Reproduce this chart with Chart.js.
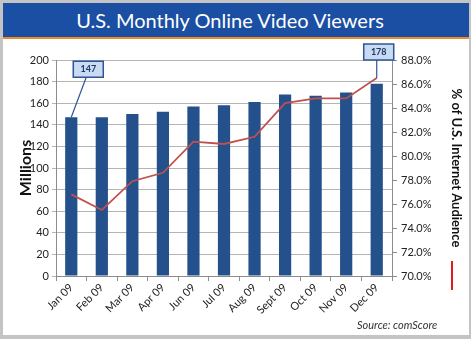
<!DOCTYPE html>
<html>
<head>
<meta charset="utf-8">
<script src="https://cdn.jsdelivr.net/npm/chart.js@4.4.1/dist/chart.umd.min.js"></script>
<style>
  html, body { margin: 0; padding: 0; }
  body { width: 471px; height: 339px; background: #c4c4c4; position: relative; overflow: hidden; font-family: Lato, "Open Sans", sans-serif; }
  #panel { position: absolute; left: 3px; top: 3px; width: 466px; height: 332px; background: #fff; }
  #banner { position: absolute; left: 3px; top: 3px; width: 466px; height: 34px; background: #1b4fa3; border-bottom: 2px solid #f08a24;
            color: #fff; font-size: 20px; line-height: 34px; text-align: center; }
  #banner span { position: relative; left: -6px; }
  #chart { position: absolute; left: 0; top: 0; }
  #source { position: absolute; left: 357px; top: 318px; font-size: 11px; font-style: italic; color: #333; }
  #key { position: absolute; left: 451px; top: 261px; width: 2px; height: 29px; background: #e31b1b; }
</style>
</head>
<body>
<div id="panel"></div>
<canvas id="chart" width="471" height="339"></canvas>
<div id="banner"><span>U.S. Monthly Online Video Viewers</span></div>
<div id="source">Source: comScore</div>
<div id="key"></div>
<script>
const months = ['Jan 09', 'Feb 09', 'Mar 09', 'Apr 09', 'Jun 09', 'Jul 09', 'Aug 09', 'Sept 09', 'Oct 09', 'Nov 09', 'Dec 09'];
const viewers = [147, 147, 150, 152, 157, 158, 161, 168, 167, 170, 178];        // millions
const audienceShare = [76.8, 75.5, 77.9, 78.6, 81.2, 81.0, 81.6, 84.4, 84.8, 84.8, 86.5]; // % of internet audience
const viewerTicks = [0, 20, 40, 60, 80, 100, 120, 140, 160, 180, 200];
const shareTicks = [70, 72, 74, 76, 78, 80, 82, 84, 86, 88];

// call-out boxes: which month, and whether the leader goes to the bar or the line
const callouts = [
    { index: 0, anchor: 'bar', dx: 17, dy: -48 },
    { index: 10, anchor: 'line', dx: 2, dy: -26 }
];

const tickFont = { family: 'Lato', size: 11 };
const tickColor = '#222';
const axisGray = '#8c8c8c';

const calloutPlugin = {
    id: 'callouts',
    afterDatasetsDraw(chart) {
        const ctx = chart.ctx;
        callouts.forEach(c => {
            const bar = chart.getDatasetMeta(1).data[c.index];
            const pt = chart.getDatasetMeta(0).data[c.index];
            const ax = c.anchor === 'bar' ? bar.x : pt.x;
            const ay = c.anchor === 'bar' ? bar.y : pt.y;
            const bx = ax + c.dx, by = ay + c.dy;
            const w = 30, h = 16;
            ctx.save();
            ctx.strokeStyle = '#2f5597';
            ctx.lineWidth = 1.2;
            ctx.beginPath();
            ctx.moveTo(bx - 2, by + h / 2);
            ctx.lineTo(ax, ay);
            ctx.stroke();
            ctx.fillStyle = '#c9daf3';
            ctx.fillRect(bx - w / 2, by - h / 2, w, h);
            ctx.lineWidth = 1.5;
            ctx.strokeRect(bx - w / 2, by - h / 2, w, h);
            ctx.fillStyle = '#1f3864';
            ctx.font = 'bold 9px Lato';
            ctx.textAlign = 'center';
            ctx.textBaseline = 'middle';
            ctx.fillText(String(viewers[c.index]), bx, by);
            ctx.restore();
        });
    }
};

new Chart(document.getElementById('chart'), {
    data: {
        labels: months,
        datasets: [
            {
                type: 'line',
                label: '% of U.S. Internet Audience',
                data: audienceShare,
                yAxisID: 'share',
                borderColor: '#c0504d',
                borderWidth: 1.8,
                pointRadius: 0,
                tension: 0,
                order: 0
            },
            {
                type: 'bar',
                label: 'Millions',
                data: viewers,
                yAxisID: 'viewers',
                backgroundColor: '#24508c',
                categoryPercentage: 0.4,
                barPercentage: 1,
                order: 1
            }
        ]
    },
    options: {
        responsive: false,
        animation: false,
        devicePixelRatio: 1,
        layout: { padding: { top: 60, left: 0, right: 0, bottom: 0 } },
        plugins: { legend: { display: false }, tooltip: { enabled: false } },
        scales: {
            x: {
                afterFit: s => { s.height = 63; },
                grid: { offset: true, drawOnChartArea: false, tickLength: 5, color: axisGray },
                border: { color: axisGray },
                ticks: { minRotation: 45, maxRotation: 45, padding: 0, font: tickFont, color: tickColor }
            },
            viewers: {
                position: 'left',
                min: 0,
                max: 200,
                afterFit: s => { s.width = 56; },
                afterBuildTicks: s => { s.ticks = viewerTicks.map(v => ({ value: v })); },
                grid: { color: '#b4b4b4', tickLength: 4 },
                border: { color: axisGray },
                ticks: { padding: 3, font: tickFont, color: tickColor },
                title: { display: true, text: 'Millions', font: { family: 'Lato', size: 16, weight: 'bold' }, color: '#111', padding: { top: 16, bottom: 0 } }
            },
            share: {
                position: 'right',
                min: 70,
                max: 88,
                afterFit: s => { s.width = 79; },
                afterBuildTicks: s => { s.ticks = shareTicks.map(v => ({ value: v })); },
                grid: { drawOnChartArea: false, tickLength: 5, color: axisGray },
                border: { color: axisGray },
                ticks: { padding: 4, font: tickFont, color: tickColor, callback: v => v.toFixed(1) + '%' },
                title: { display: true, text: '% of U.S. Internet Audience', font: { family: 'Lato', size: 13, weight: 'bold' }, color: '#111', padding: { top: 7, bottom: 0 } }
            }
        }
    },
    plugins: [calloutPlugin]
});
</script>
</body>
</html>
